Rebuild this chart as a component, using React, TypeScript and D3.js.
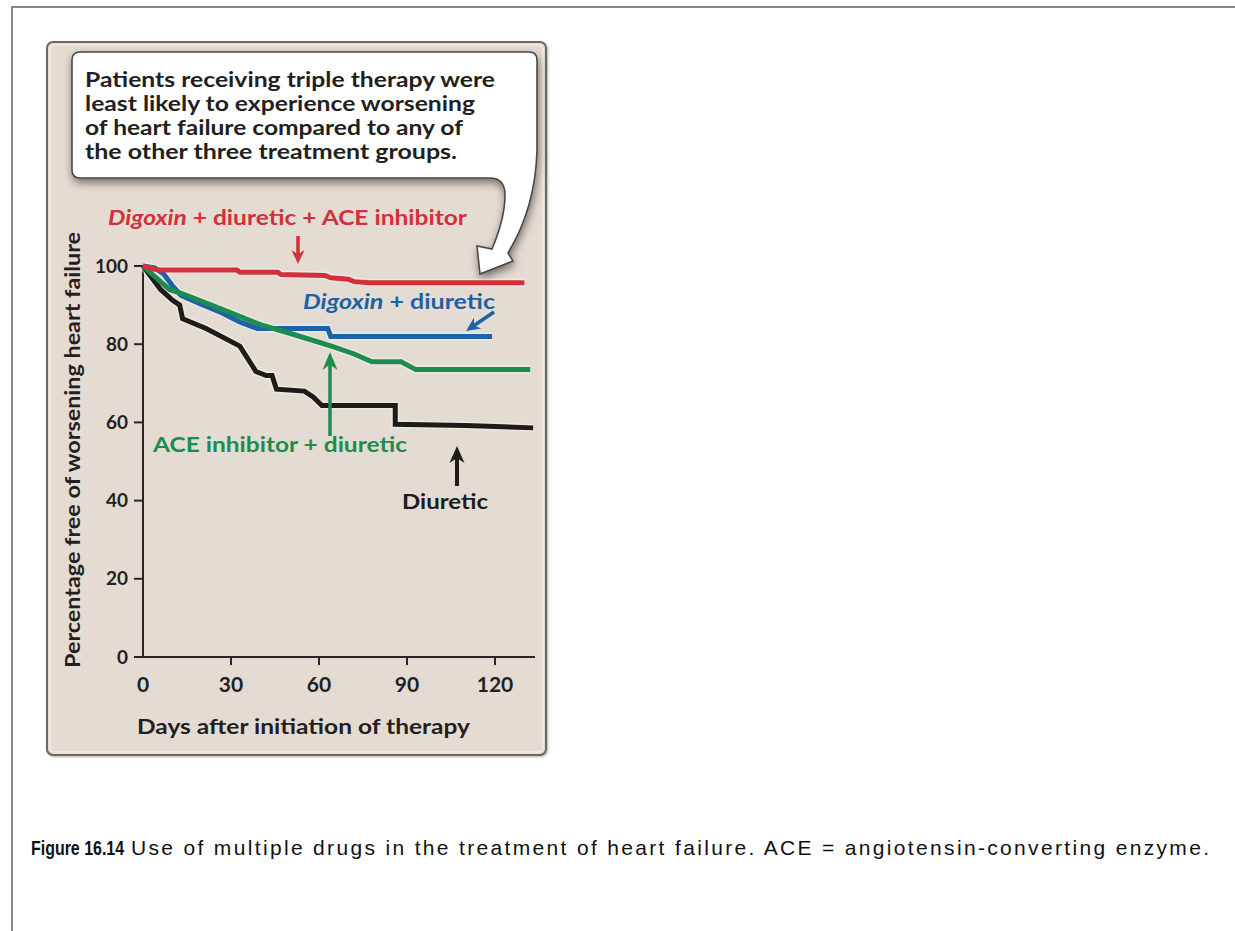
import React from "react";
import * as d3 from "d3";

// ---- data (days after initiation, percent free of worsening heart failure) ----
const tripleData: [number, number][] = [
  [0, 100], [5, 99], [32, 99], [33, 98.4], [46, 98.4], [47, 97.8], [62, 97.6], [64, 97], [70, 96.6], [72, 96], [77, 95.7], [130, 95.7],
];
const digDiuData: [number, number][] = [
  [0, 100], [4, 99.5], [7, 98], [10, 95], [13, 92.5], [19, 90.5], [27, 88], [33, 85.7], [39, 84], [63, 84], [64, 82], [119, 82],
];
const aceDiuData: [number, number][] = [
  [0, 100], [3, 98], [6, 96], [9, 94], [13, 93], [19, 91.3], [30, 88], [40, 85], [50, 82.8], [60, 80.5], [65, 79.3], [72, 77.5], [78, 75.5], [88, 75.5], [93, 73.5], [132, 73.5],
];
const diureticData: [number, number][] = [
  [0, 100], [3, 97], [6, 94], [10, 91.3], [12.5, 90], [13.5, 86.5], [21.5, 84], [33, 79.5], [38.5, 73], [42, 72], [44, 72], [45.5, 68.5], [55, 68], [58, 66.5], [61, 64.3], [86, 64.3], [86, 59.5], [110, 59.2], [133, 58.6],
];
const xTicks = [0, 30, 60, 90, 120];
const yTicks = [0, 20, 40, 60, 80, 100];
const calloutLines = [
  "Patients receiving triple therapy were",
  "least likely to experience worsening",
  "of heart failure compared to any of",
  "the other three treatment groups.",
];
const calloutWidths = [410, 390, 378, 372];
const xTitle = "Days after initiation of therapy";
const yTitle = "Percentage free of worsening heart failure";
const captionBold = "Figure 16.14";
const captionRest = "Use of multiple drugs in the treatment of heart failure. ACE = angiotensin-converting enzyme.";

const RED = "#d2303b";
const BLUE = "#1d62a6";
const GREEN = "#1c8d4e";
const BLACK = "#1e1b1b";
const FONT = "Lato, 'Open Sans', sans-serif";
const CAPFONT = "'Liberation Sans Narrow', 'Arial Narrow', 'Liberation Sans', Arial, sans-serif";

function Arrow({ x1, y1, x2, y2, color, hl = 14, hw = 14, sw = 3 }: any) {
  const dx = x2 - x1, dy = y2 - y1;
  const L = Math.sqrt(dx * dx + dy * dy);
  const ux = dx / L, uy = dy / L;
  const bx = x2 - ux * hl, by = y2 - uy * hl;
  const px = -uy, py = ux;
  const pts = [
    [x2, y2],
    [bx + px * hw / 2, by + py * hw / 2],
    [x2 - ux * hl * 0.7, y2 - uy * hl * 0.7],
    [bx - px * hw / 2, by - py * hw / 2],
  ];
  return (
    <g>
      <line x1={x1} y1={y1} x2={x2 - ux * hl * 0.7} y2={y2 - uy * hl * 0.7} stroke={color} strokeWidth={sw} />
      <polygon points={pts.map((p) => p.join(",")).join(" ")} fill={color} />
    </g>
  );
}

export default function App() {
  const x = d3.scaleLinear().domain([0, 120]).range([143, 495]);
  const y = d3.scaleLinear().domain([0, 100]).range([657, 266]);
  const line = d3.line<[number, number]>().x((d) => x(d[0])).y((d) => y(d[1]));

  const series = [
    { data: diureticData, color: BLACK },
    { data: digDiuData, color: BLUE },
    { data: aceDiuData, color: GREEN },
    { data: tripleData, color: RED },
  ];

  const calloutPath =
    "M80,52 H529 Q537,52 537,60 V150 C536,190 525,225 508,253 L513,261 L480,274 L477,246 L492,249 C500,230 505,210 505,195 C505,184 500,178 490,178 H80 Q72,178 72,170 V60 Q72,52 80,52 Z";

  return (
    <svg width={1235} height={931} style={{ position: "absolute", left: 0, top: 0, background: "#fff" }} fontFamily={FONT}>
      <defs>
        <filter id="shadow" x="-10%" y="-10%" width="130%" height="140%">
          <feDropShadow dx="1" dy="4" stdDeviation="4" floodColor="#000" floodOpacity="0.5" />
        </filter>
        <filter id="pshadow" x="-5%" y="-5%" width="110%" height="110%">
          <feDropShadow dx="1" dy="1" stdDeviation="1" floodColor="#000" floodOpacity="0.3" />
        </filter>
      </defs>

      {/* page frame */}
      <line x1={11} y1={7} x2={1235} y2={7} stroke="#858585" strokeWidth={2} />
      <line x1={12} y1={7} x2={12} y2={931} stroke="#8a8a8a" strokeWidth={2} />

      {/* panel */}
      <rect x={47} y={42} width={499} height={713} rx={6} fill="#e4dcd2" stroke="#6e6863" strokeWidth={2} filter="url(#pshadow)" />
      <rect x={50} y={45} width={493} height={707} rx={4} fill="none" stroke="#f1ece6" strokeWidth={1.5} />

      {/* callout */}
      <path d={calloutPath} fill="#ffffff" stroke="#4a4646" strokeWidth={1.6} filter="url(#shadow)" />
      {calloutLines.map((t, i) => (
        <text key={i} x={85} y={87 + i * 24} fontSize={21} fontWeight={700} fill="#231f20"
          textLength={calloutWidths[i]} lengthAdjust="spacingAndGlyphs">
          {t}
        </text>
      ))}

      {/* axes */}
      <line x1={143} y1={y(100)} x2={143} y2={657} stroke="#2a2626" strokeWidth={2} />
      <line x1={134} y1={657} x2={535} y2={657} stroke="#2a2626" strokeWidth={2} />
      {yTicks.map((t) => (
        <g key={t}>
          <line x1={134} x2={143} y1={y(t)} y2={y(t)} stroke="#2a2626" strokeWidth={2} />
          <text x={128} y={y(t) + 6.5} textAnchor="end" fontSize={19} fontWeight={700} fill="#231f20">
            {t}
          </text>
        </g>
      ))}
      {xTicks.map((t) => (
        <g key={t}>
          {t > 0 && <line x1={x(t)} x2={x(t)} y1={657} y2={665} stroke="#2a2626" strokeWidth={2} />}
          <text x={x(t)} y={692} textAnchor="middle" fontSize={21} fontWeight={700} fill="#231f20">
            {t}
          </text>
        </g>
      ))}
      <text x={137} y={734} fontSize={21} fontWeight={700} fill="#231f20" textLength={333} lengthAdjust="spacingAndGlyphs">
        {xTitle}
      </text>
      <text transform="translate(80,668) rotate(-90)" fontSize={21} fontWeight={700} fill="#231f20" textLength={436} lengthAdjust="spacingAndGlyphs">
        {yTitle}
      </text>

      {/* series */}
      {series.map((s, i) => (
        <path key={"h" + i} d={line(s.data) as string} fill="none" stroke="#ffffff" strokeOpacity={0.35} strokeWidth={8} />
      ))}
      {series.map((s, i) => (
        <path key={i} d={line(s.data) as string} fill="none" stroke={s.color} strokeWidth={5} strokeLinejoin="miter" />
      ))}

      {/* labels & arrows */}
      <text x={108} y={225} fontSize={20} fontWeight={700} fill={RED} textLength={359} lengthAdjust="spacingAndGlyphs">
        <tspan fontStyle="italic">Digoxin</tspan> + diuretic + ACE inhibitor
      </text>
      <Arrow x1={298} y1={236} x2={298} y2={264} color={RED} hl={14} hw={13} sw={3.5} />

      <text x={303} y={309} fontSize={20} fontWeight={700} fill={BLUE} textLength={192} lengthAdjust="spacingAndGlyphs">
        <tspan fontStyle="italic">Digoxin</tspan> + diuretic
      </text>
      <Arrow x1={494} y1={312} x2={466} y2={331} color={BLUE} hl={14} hw={13} sw={3.5} />

      <text x={153} y={452} fontSize={20} fontWeight={700} fill={GREEN} textLength={254} lengthAdjust="spacingAndGlyphs">
        ACE inhibitor + diuretic
      </text>
      <Arrow x1={330} y1={436} x2={330} y2={352} color={GREEN} hl={18} hw={15} sw={3.5} />

      <text x={402} y={509} fontSize={20} fontWeight={700} fill={BLACK} textLength={86} lengthAdjust="spacingAndGlyphs">
        Diuretic
      </text>
      <Arrow x1={457} y1={486} x2={457} y2={446} color={BLACK} hl={17} hw={15} sw={4} />

      {/* caption */}
      <g transform="translate(31,855) scale(0.76,1)">
        <text x={0} y={0} fontSize={21} fontWeight={700} fill="#111" fontFamily={CAPFONT}>
          {captionBold}
        </text>
      </g>
      <text x={131} y={855} fontSize={21} fill="#111" fontFamily={CAPFONT}
        textLength={1078} lengthAdjust="spacing">
        {captionRest}
      </text>
    </svg>
  );
}
